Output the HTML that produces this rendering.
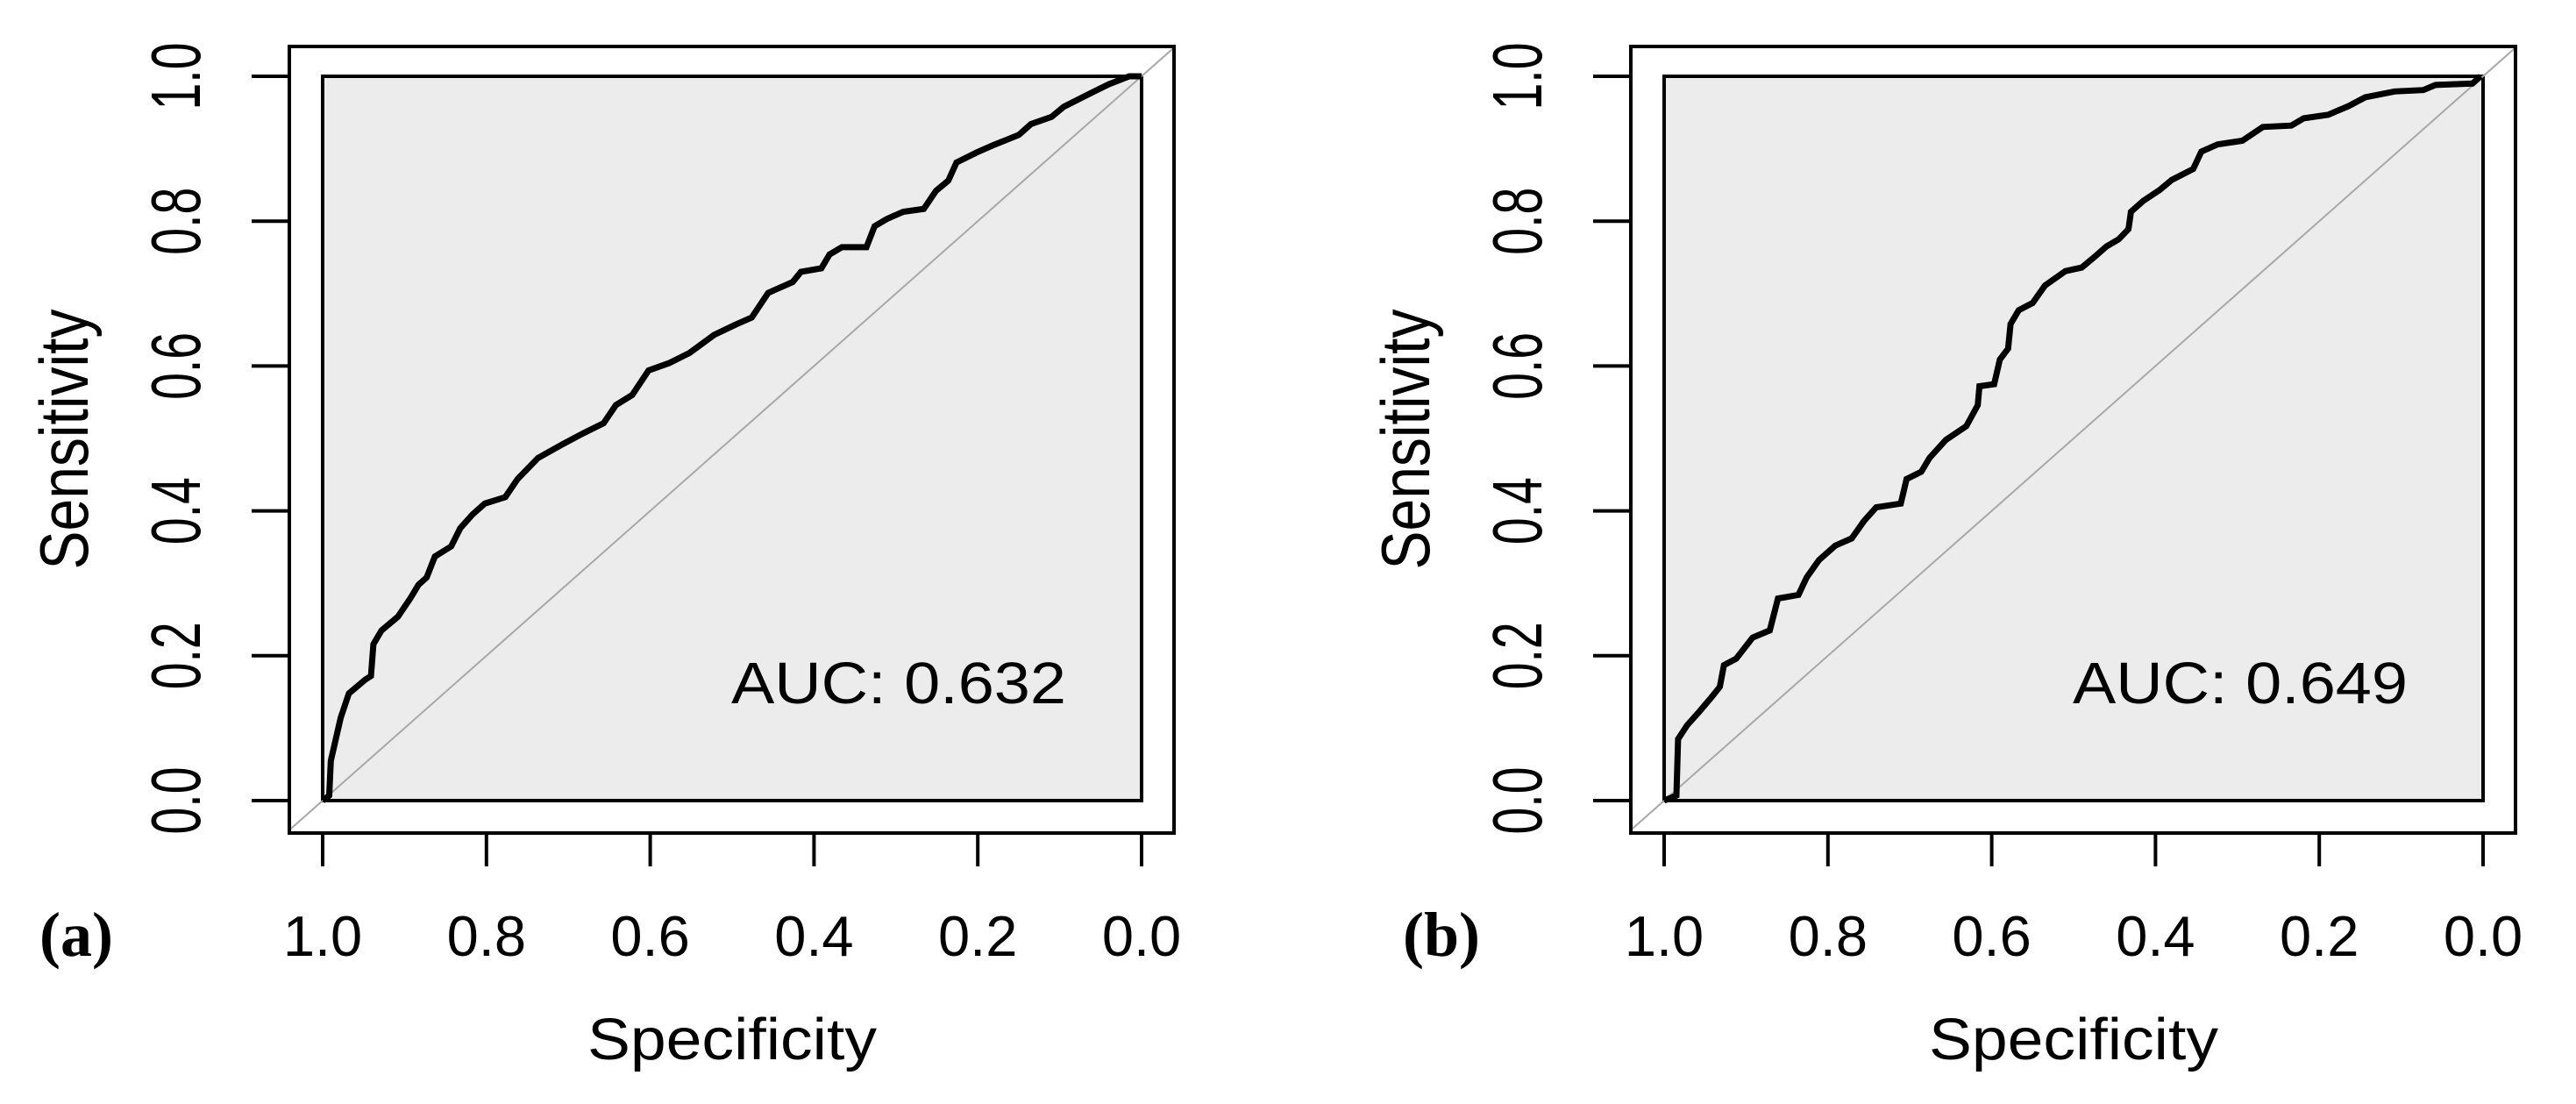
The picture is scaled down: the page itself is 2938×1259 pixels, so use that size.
<!DOCTYPE html>
<html><head><meta charset="utf-8"><style>
html,body{margin:0;padding:0;background:#fff;width:2938px;height:1259px;overflow:hidden}
svg text{font-family:"Liberation Sans",sans-serif;fill:#000}
</style></head><body>
<svg id="fig" xmlns="http://www.w3.org/2000/svg" width="2938" height="1259" viewBox="0 0 2938 1259"></svg>
<script>
const tickValues = [1.0, 0.8, 0.6, 0.4, 0.2, 0.0];
const tickLabels = ["1.0", "0.8", "0.6", "0.4", "0.2", "0.0"];
const panelLetters = ["(a)", "(b)"];
const aucLabels = ["AUC: 0.632", "AUC: 0.649"];
const specA = [1.000,0.992,0.990,0.978,0.968,0.948,0.941,0.938,0.928,0.908,0.893,0.883,0.873,0.863,0.843,0.832,0.817,0.802,0.777,0.762,0.737,0.707,0.682,0.657,0.642,0.622,0.602,0.577,0.552,0.522,0.496,0.476,0.456,0.426,0.416,0.391,0.381,0.366,0.336,0.326,0.311,0.291,0.266,0.251,0.236,0.226,0.201,0.181,0.150,0.135,0.110,0.095,0.060,0.040,0.015,0.000];
const sensA = [0.000,0.007,0.055,0.114,0.148,0.167,0.172,0.216,0.235,0.254,0.279,0.298,0.308,0.337,0.351,0.376,0.395,0.410,0.419,0.444,0.473,0.492,0.507,0.521,0.546,0.560,0.594,0.604,0.618,0.643,0.657,0.667,0.701,0.716,0.730,0.735,0.754,0.764,0.764,0.793,0.803,0.813,0.817,0.842,0.856,0.881,0.895,0.905,0.919,0.934,0.944,0.958,0.978,0.989,1.000,1.000];
const specB = [1.000,0.985,0.983,0.972,0.957,0.942,0.932,0.927,0.912,0.892,0.871,0.861,0.836,0.826,0.811,0.791,0.771,0.756,0.741,0.711,0.704,0.686,0.676,0.656,0.631,0.617,0.615,0.597,0.590,0.580,0.577,0.567,0.550,0.535,0.510,0.490,0.475,0.460,0.445,0.433,0.430,0.415,0.395,0.380,0.354,0.344,0.324,0.294,0.269,0.234,0.219,0.189,0.164,0.144,0.108,0.073,0.058,0.013,0.003];
const sensB = [0.000,0.007,0.085,0.104,0.123,0.143,0.157,0.187,0.196,0.225,0.235,0.279,0.284,0.308,0.332,0.352,0.362,0.386,0.405,0.410,0.444,0.454,0.473,0.498,0.517,0.546,0.572,0.575,0.609,0.624,0.658,0.677,0.687,0.711,0.731,0.736,0.750,0.765,0.775,0.789,0.813,0.828,0.843,0.857,0.872,0.896,0.906,0.911,0.930,0.932,0.942,0.947,0.959,0.971,0.979,0.981,0.988,0.990,1.000];

const NS="http://www.w3.org/2000/svg";
const svg=document.getElementById('fig');
function mk(tag,attrs,parent){const e=document.createElementNS(NS,tag);for(const k in attrs)e.setAttribute(k,attrs[k]);(parent||svg).appendChild(e);return e;}

const offsets=[0,1530];
const series=[[specA,sensA],[specB,sensB]];
const letterX=[45,1600];

for(let p=0;p<2;p++){
  const o=offsets[p];
  const L=368+o, R=1302+o, T=87, B=913;
  const OL=330+o, OR=1339+o, OT=53, OB=950;
  const xs=v=>R-(R-L)*v;
  const ys=v=>B-(B-T)*v;
  const g=mk('g',{});
  
  
  const clipId='clip'+p;
  const cp=mk('clipPath',{id:clipId},g);
  mk('rect',{x:OL,y:OT,width:OR-OL,height:OB-OT},cp);
  const bg=mk('rect',{x:L,y:T,width:R-L,height:B-T,fill:'#ececec',stroke:'#000','stroke-width':4},g);
  
  
  const diag=mk('line',{x1:xs(1+(L-OL)/(R-L)),y1:ys(-(L-OL)/(R-L)),x2:xs(-(OR-R)/(R-L)),y2:ys(1+(OR-R)/(R-L)),stroke:'#a8a8a8','stroke-width':2,'clip-path':'url(#'+clipId+')'},g);
  
  
  const [sp,se]=series[p];
  const pts=sp.map((v,i)=>xs(v).toFixed(1)+','+ys(se[i]).toFixed(1)).join(' ');
  const curve=mk('polyline',{points:pts,fill:'none',stroke:'#000','stroke-width':7,'stroke-linejoin':'miter'},g);
  
  
  const box=mk('rect',{x:OL,y:OT,width:OR-OL,height:OB-OT,fill:'none',stroke:'#000','stroke-width':4},g);
  
  
  tickValues.forEach((v,i)=>{
    const tx=mk('line',{x1:xs(v),y1:OB,x2:xs(v),y2:988,stroke:'#000','stroke-width':4},g);
    
    
    const lx=mk('text',{x:xs(v),y:1090,'text-anchor':'middle','font-size':65},g);
    lx.textContent=tickLabels[i];
    
    
    const ty=mk('line',{x1:287+o,y1:ys(v),x2:OL,y2:ys(v),stroke:'#000','stroke-width':4},g);
    
    
    const bx=228+o, by=ys(v);
    const ly=mk('text',{x:bx,y:by,'text-anchor':'middle','font-size':80,textLength:77,lengthAdjust:'spacingAndGlyphs',transform:`rotate(-90 ${bx} ${by})`},g);
    ly.textContent=tickLabels[i];
    
    
  });
  const xt=mk('text',{x:(L+R)/2,y:1208,'text-anchor':'middle','font-size':67,textLength:330,lengthAdjust:'spacingAndGlyphs'},g);
  xt.textContent='Specificity';
  
  
  const yx=100+o, yy=501;
  const yt=mk('text',{x:yx,y:yy,'text-anchor':'middle','font-size':78,textLength:297,lengthAdjust:'spacingAndGlyphs',transform:`rotate(-90 ${yx} ${yy})`},g);
  yt.textContent='Sensitivity';
  
  
  const auc=mk('text',{x:834+o,y:802,'font-size':67,textLength:382,lengthAdjust:'spacingAndGlyphs'},g);
  auc.textContent=aucLabels[p];
  
  
  const lt=mk('text',{x:letterX[p],y:1090,'font-size':72,'font-weight':'bold',style:'font-family:"Liberation Serif",serif'},g);
  lt.textContent=panelLetters[p];
  
  
}
</script>
</body></html>
